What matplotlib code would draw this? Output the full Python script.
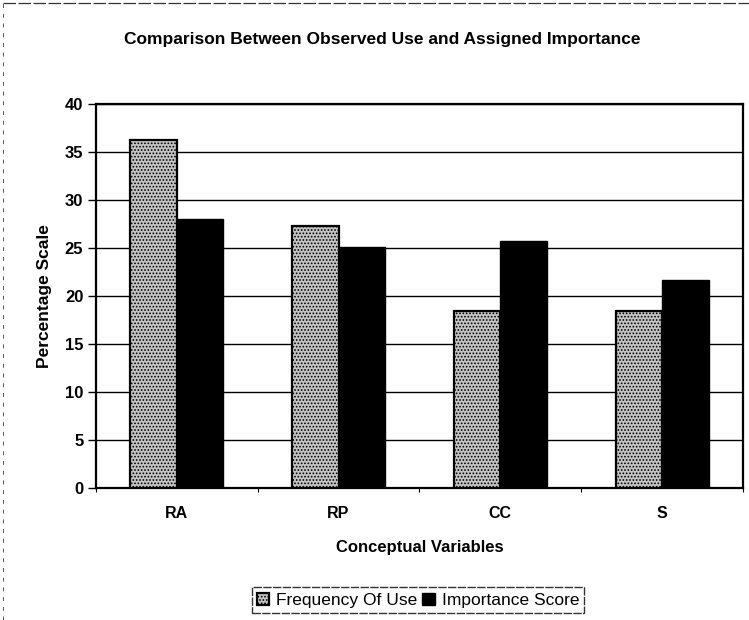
import numpy as np
import matplotlib.pyplot as plt
from matplotlib.lines import Line2D

plt.rcParams['font.family'] = ['Liberation Sans', 'DejaVu Sans']
plt.rcParams['hatch.color'] = '#4a4a4a'
plt.rcParams['hatch.linewidth'] = 0.8

# data
categories = ['RA', 'RP', 'CC', 'S']
freq_use = [36.3, 27.3, 18.4, 18.4]
importance = [28.0, 25.1, 25.7, 21.7]

fig = plt.figure(figsize=(7.49, 6.2), dpi=100)
ax = fig.add_axes([0.128, 0.213, 0.864, 0.619])

x = np.arange(len(categories)) + 0.5
w = 0.287

ax.bar(x - w/2, freq_use, w, color='#c4c4c4', edgecolor='black', linewidth=1.6,
       hatch='.....', label='Frequency Of Use', zorder=3)
ax.bar(x + w/2, importance, w, color='black', edgecolor='black', linewidth=1.0,
       label='Importance Score', zorder=3)

ax.set_xlim(0, 4)
ax.set_ylim(0, 40)
ax.set_yticks(np.arange(0, 41, 5))
ax.yaxis.grid(True, color='black', linewidth=1.0, zorder=0)
ax.set_axisbelow(True)

ax.set_xticks(x)
ax.set_xticklabels(categories)
ax.set_xticks(np.arange(0, 5), minor=True)
ax.tick_params(axis='x', which='major', length=0, pad=13, labelsize=11.5)
ax.tick_params(axis='x', which='minor', length=3, direction='out', width=0.8)
ax.tick_params(axis='y', length=6, width=1.0, direction='out', pad=3, labelsize=12)
for lab in ax.get_xticklabels() + ax.get_yticklabels():
    lab.set_fontweight('bold')

for s in ax.spines.values():
    s.set_linewidth(1.6)

ax.set_xlabel('Conceptual Variables', fontsize=12, fontweight='bold', labelpad=14)
ax.set_ylabel('Percentage Scale', fontsize=12.5, fontweight='bold', labelpad=9)
fig.text(0.51, 0.937, 'Comparison Between Observed Use and Assigned Importance',
         ha='center', va='center', fontsize=12.5, fontweight='bold')

leg = fig.legend(loc='center', bbox_to_anchor=(0.558, 0.032), ncol=2,
                 fontsize=12.5, frameon=True, fancybox=False, handlelength=0.7,
                 handleheight=0.7, handletextpad=0.4, columnspacing=0.3,
                 borderpad=0.3)
leg.get_frame().set_edgecolor('black')
leg.get_frame().set_linewidth(1.0)
leg.get_frame().set_linestyle((0, (6, 1)))

# scanned page border on top and left
fig.add_artist(Line2D([0.004, 0.004], [0.0, 0.995], color='#555555',
                      linewidth=0.7, linestyle=(0, (4, 6))))
fig.add_artist(Line2D([0.004, 1.0], [0.995, 0.995], color='#333333',
                      linewidth=0.9, linestyle=(0, (10, 2))))

fig.savefig('out.png', dpi=100)
